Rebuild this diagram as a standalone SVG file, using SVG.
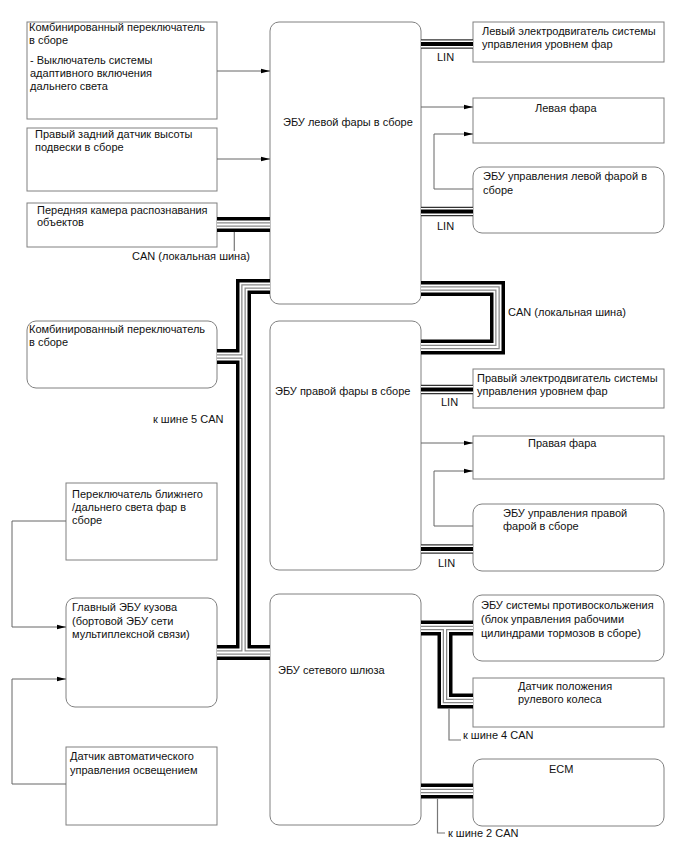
<svg xmlns="http://www.w3.org/2000/svg" width="688" height="852" viewBox="0 0 688 852">
<style>
text{font-family:"Liberation Sans",Arial,sans-serif;font-size:11px;fill:#111}
.box{fill:#fff;stroke:#808080;stroke-width:1}
.ln{fill:none;stroke:#666;stroke-width:1}
.tick{fill:none;stroke:#777;stroke-width:1.2}
.c1{fill:none;stroke:#000;stroke-width:15;stroke-linejoin:miter}
.c2{fill:none;stroke:#fff;stroke-width:8;stroke-linejoin:miter}
.c3{fill:none;stroke:#888;stroke-width:4.5;stroke-linejoin:miter}
.c4{fill:none;stroke:#fff;stroke-width:2;stroke-linejoin:miter}
.l1{fill:none;stroke:#333;stroke-width:9.5}
.l2{fill:none;stroke:#fff;stroke-width:7}
.l3{fill:none;stroke:#000;stroke-width:4}
</style>
<defs>
<marker id="ah" markerWidth="9" markerHeight="6" refX="9" refY="3" orient="auto" markerUnits="userSpaceOnUse">
<path d="M0,0.7 L9,3 L0,5.3 Z" fill="#000"/>
</marker>
<path id="bus1" d="M270 286.5 H243.5 V652.5"/>
<path id="bus2" d="M217 652.5 H270"/>
<path id="bus3" d="M217 356.5 H243.5"/>
<path id="bus4" d="M217 224.5 H270"/>
<path id="bus5" d="M421 288.5 H497.5 V347 H421"/>
<path id="bus6" d="M421 628 H473"/>
<path id="bus7" d="M445 628 V701 H473"/>
<path id="bus8" d="M421 791 H473"/>
<path id="lin1" d="M421 44 H473"/>
<path id="lin2" d="M421 211.5 H473"/>
<path id="lin3" d="M421 389.5 H473"/>
<path id="lin4" d="M421 549 H473"/>
</defs>

<g id="n1"><rect class="box" x="27" y="22" width="190" height="97"/>
<text x="29" y="31">Комбинированный переключатель</text><text x="29" y="44">в сборе</text>
<text x="30" y="64">- Выключатель системы</text><text x="30" y="77">адаптивного включения</text><text x="30" y="90">дальнего света</text></g>
<g id="n2"><rect class="box" x="27" y="128" width="190" height="63"/>
<text x="35" y="138">Правый задний датчик высоты</text><text x="35" y="151">подвески в сборе</text></g>
<g id="n3"><rect class="box" x="27" y="203" width="190" height="44"/>
<text x="37" y="214">Передняя камера распознавания</text><text x="37" y="226">объектов</text></g>
<g id="n4"><rect class="box" x="270" y="22" width="151" height="282" rx="9"/>
<text x="283" y="126">ЭБУ левой фары в сборе</text></g>
<g id="n5"><rect class="box" x="473" y="22" width="191" height="40"/>
<text x="482" y="35">Левый электродвигатель системы</text><text x="482" y="48">управления уровнем фар</text></g>
<g id="n6"><rect class="box" x="473" y="98" width="191" height="45"/>
<text x="535" y="112">Левая фара</text></g>
<g id="n7"><rect class="box" x="473" y="167" width="191" height="66" rx="9"/>
<text x="483" y="180">ЭБУ управления левой фарой в</text><text x="483" y="194">сборе</text></g>
<g id="n8"><rect class="box" x="27" y="321" width="190" height="67" rx="9"/>
<text x="29" y="333">Комбинированный переключатель</text><text x="29" y="346">в сборе</text></g>
<g id="n9"><rect class="box" x="270" y="321" width="151" height="249" rx="9"/>
<text x="275" y="395">ЭБУ правой фары в сборе</text></g>
<g id="n10"><rect class="box" x="473" y="369" width="191" height="39"/>
<text x="477" y="382">Правый электродвигатель системы</text><text x="477" y="395">управления уровнем фар</text></g>
<g id="n11"><rect class="box" x="473" y="436" width="191" height="43"/>
<text x="528" y="447">Правая фара</text></g>
<g id="n12"><rect class="box" x="473" y="504" width="191" height="67" rx="9"/>
<text x="503" y="517">ЭБУ управления правой</text><text x="503" y="530">фарой в сборе</text></g>
<g id="n13"><rect class="box" x="66" y="483" width="151" height="77"/>
<text x="72" y="498">Переключатель ближнего</text><text x="72" y="511">/дальнего света фар в</text><text x="72" y="524">сборе</text></g>
<g id="n14"><rect class="box" x="66" y="598" width="151" height="109" rx="9"/>
<text x="72" y="611">Главный ЭБУ кузова</text><text x="72" y="624.5">(бортовой ЭБУ сети</text><text x="72" y="638">мультиплексной связи)</text></g>
<g id="n15"><rect class="box" x="66" y="747" width="151" height="78"/>
<text x="70" y="760">Датчик автоматического</text><text x="70" y="773.5">управления освещением</text></g>
<g id="n16"><rect class="box" x="270" y="594" width="151" height="231" rx="9"/>
<text x="278" y="674">ЭБУ сетевого шлюза</text></g>
<g id="n17"><rect class="box" x="473" y="595" width="191" height="66" rx="9"/>
<text x="481" y="609">ЭБУ системы противоскольжения</text><text x="481" y="623">(блок управления рабочими</text><text x="481" y="636.5">цилиндрами тормозов в сборе)</text></g>
<g id="n18"><rect class="box" x="473" y="678" width="191" height="49"/>
<text x="518" y="690">Датчик положения</text><text x="518" y="703">рулевого колеса</text></g>
<g id="n19"><rect class="box" x="473" y="759" width="191" height="67" rx="9"/>
<text x="549" y="773">ECM</text></g>

<g id="connectors">
<path class="ln" d="M217 71 H270" marker-end="url(#ah)"/>
<path class="ln" d="M217 159 H270" marker-end="url(#ah)"/>
<path class="ln" d="M421 107 H473" marker-end="url(#ah)"/>
<path class="ln" d="M473 189 H434 V134 H473" marker-end="url(#ah)"/>
<path class="ln" d="M421 443 H473" marker-end="url(#ah)"/>
<path class="ln" d="M473 526 H434 V471 H473" marker-end="url(#ah)"/>
<path class="ln" d="M66 521 H12 V627 H66" marker-end="url(#ah)"/>
<path class="ln" d="M66 784 H12 V679 H66" marker-end="url(#ah)"/>

<g id="can-bus">
<use href="#bus1" class="c1"/><use href="#bus2" class="c1"/><use href="#bus3" class="c1"/><use href="#bus4" class="c1"/><use href="#bus5" class="c1"/><use href="#bus6" class="c1"/><use href="#bus7" class="c1"/><use href="#bus8" class="c1"/>
<use href="#bus1" class="c2"/><use href="#bus2" class="c2"/><use href="#bus3" class="c2"/><use href="#bus4" class="c2"/><use href="#bus5" class="c2"/><use href="#bus6" class="c2"/><use href="#bus7" class="c2"/><use href="#bus8" class="c2"/>
<use href="#bus1" class="c3"/><use href="#bus2" class="c3"/><use href="#bus3" class="c3"/><use href="#bus4" class="c3"/><use href="#bus5" class="c3"/><use href="#bus6" class="c3"/><use href="#bus7" class="c3"/><use href="#bus8" class="c3"/>
<use href="#bus1" class="c4"/><use href="#bus2" class="c4"/><use href="#bus3" class="c4"/><use href="#bus4" class="c4"/><use href="#bus5" class="c4"/><use href="#bus6" class="c4"/><use href="#bus7" class="c4"/><use href="#bus8" class="c4"/>
</g>
<g id="lin-bus">
<use href="#lin1" class="l1"/><use href="#lin2" class="l1"/><use href="#lin3" class="l1"/><use href="#lin4" class="l1"/>
<use href="#lin1" class="l2"/><use href="#lin2" class="l2"/><use href="#lin3" class="l2"/><use href="#lin4" class="l2"/>
<use href="#lin1" class="l3"/><use href="#lin2" class="l3"/><use href="#lin3" class="l3"/><use href="#lin4" class="l3"/>
</g>
<path class="tick" d="M234.3 232 V251"/>
<path class="tick" d="M449 708.5 V740 H461"/>
<path class="tick" d="M437.5 798.5 V833 H445"/>
</g>

<g id="labels">
<text x="132" y="260">CAN (локальная шина)</text>
<text x="508" y="316">CAN (локальная шина)</text>
<text x="153" y="423">к шине 5 CAN</text>
<text x="437" y="61">LIN</text>
<text x="437" y="230">LIN</text>
<text x="441" y="406">LIN</text>
<text x="438" y="567">LIN</text>
<text x="463" y="739">к шине 4 CAN</text>
<text x="448" y="837">к шине 2 CAN</text>
</g>
</svg>
